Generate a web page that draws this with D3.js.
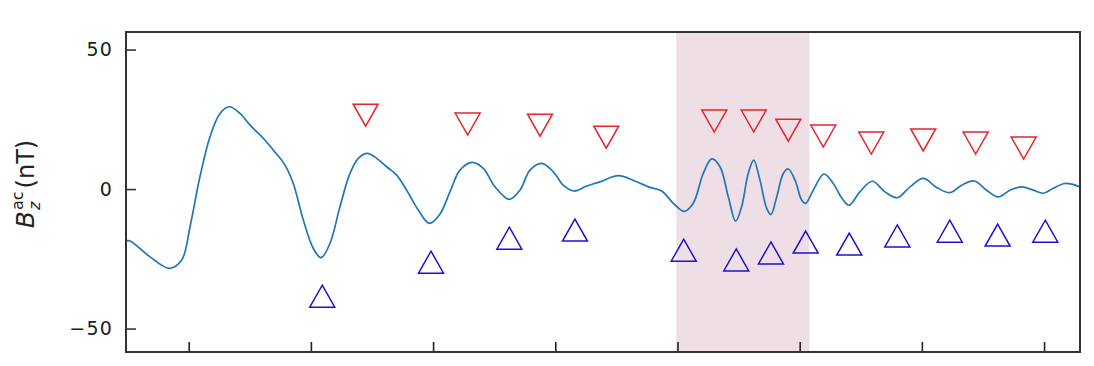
<!DOCTYPE html>
<html>
<head>
<meta charset="utf-8">
<script src="https://cdn.jsdelivr.net/npm/d3@7"></script>
<style>
  html, body { margin: 0; padding: 0; background: #fff; }
  svg { display: block; }
</style>
</head>
<body>
<svg id="chart" width="1094" height="366"></svg>
<script>
// ---- data ----
const lineT = [-0.513,-0.480,-0.316,-0.159,-0.057,0.011,0.092,0.174,0.256,0.332,0.420,0.502,0.610,0.692,0.788,0.856,0.938,1.020,1.083,1.156,1.238,1.320,1.388,1.462,1.538,1.620,1.702,1.784,1.879,1.969,2.056,2.138,2.220,2.321,2.411,2.507,2.624,2.711,2.793,2.889,2.984,3.065,3.155,3.257,3.366,3.516,3.666,3.775,3.871,3.966,4.056,4.129,4.211,4.280,4.348,4.416,4.476,4.525,4.579,4.624,4.675,4.730,4.765,4.812,4.866,4.907,4.962,5.016,5.049,5.111,5.199,5.275,5.344,5.403,5.493,5.594,5.698,5.799,5.903,6.012,6.121,6.230,6.326,6.429,6.530,6.625,6.721,6.817,6.912,6.993,7.075,7.171,7.294];
const lineB = [-18.6,-18.6,-24.3,-28.4,-25.4,-13.5,4.4,18.7,27.1,29.5,27.1,22.9,18.2,14.0,8.6,2.0,-11.1,-21.3,-24.6,-19.5,-6.3,5.6,11.0,12.8,11.0,8.0,5.0,-0.4,-7.5,-12.3,-9.0,-1.0,6.8,9.6,7.4,0.8,-3.7,-0.4,6.8,9.2,6.2,1.4,-0.7,1.1,2.6,4.8,2.6,0.6,-0.7,-5.1,-8.0,-5.1,5.6,10.8,8.0,-2.8,-11.5,-6.3,5.6,10.4,3.2,-6.9,-9.1,-2.8,5.6,7.2,3.2,-3.9,-5.1,-0.4,5.4,2.0,-3.2,-5.8,-1.0,2.8,-1.0,-3.1,0.8,3.8,0.6,-1.3,1.4,2.9,-0.4,-2.8,-0.4,0.8,-0.4,-1.5,0.3,2.0,0.8];

const maxT = [1.448,2.283,2.875,3.417,4.301,4.624,4.907,5.193,5.586,6.011,6.440,6.833];
const maxB = [26.5,23.3,22.9,18.6,24.4,24.4,21.1,19.0,16.5,17.6,16.5,14.7];

const minT = [1.093,1.983,2.624,3.161,4.051,4.481,4.765,5.049,5.406,5.799,6.228,6.620,7.010];
const minB = [-38.4,-26.2,-17.6,-14.7,-21.9,-25.4,-22.9,-19.0,-19.7,-16.8,-15.1,-16.5,-15.1];

const shadeRange = [3.99, 5.08];
const xTicks = [0,1,2,3,4,5,6,7];
const yTicks = [-50, 0, 50];
const yTickLabels = ["\u221250", "0", "50"];

// ---- layout ----
const L = 126, R = 1080, T = 32, B = 352;
const svg = d3.select("#chart");
const x = d3.scaleLinear().domain([-0.513, 7.294]).range([L, R]);
const y = d3.scaleLinear().domain([-58.4, 56.3]).range([B, T]);

const FONT = "DejaVu Sans, sans-serif";
const axisColor = "#333";

// shaded band
svg.append("rect")
  .attr("x", x(shadeRange[0])).attr("y", T)
  .attr("width", x(shadeRange[1]) - x(shadeRange[0]))
  .attr("height", B - T)
  .attr("fill", "#eedfe6");

// clip
svg.append("clipPath").attr("id", "clip")
  .append("rect").attr("x", L).attr("y", T).attr("width", R - L).attr("height", B - T);

// line
const pts = lineT.map((t, i) => [t, lineB[i]]);
svg.append("path")
  .attr("clip-path", "url(#clip)")
  .attr("d", d3.line().x(d => x(d[0])).y(d => y(d[1])).curve(d3.curveCatmullRom.alpha(0.5))(pts))
  .attr("fill", "none")
  .attr("stroke", "#1f77b4")
  .attr("stroke-width", 1.7);

// markers
const hw = 12.5, hh = 11;
svg.append("g").selectAll("path")
  .data(maxT.map((t, i) => [t, maxB[i]]))
  .join("path")
  .attr("transform", d => `translate(${x(d[0])},${y(d[1])})`)
  .attr("d", `M${-hw},${-hh}L${hw},${-hh}L0,${hh}Z`)
  .attr("fill", "none").attr("stroke", "#e8222a").attr("stroke-width", 1.5);

svg.append("g").selectAll("path")
  .data(minT.map((t, i) => [t, minB[i]]))
  .join("path")
  .attr("transform", d => `translate(${x(d[0])},${y(d[1])})`)
  .attr("d", `M0,${-hh}L${hw},${hh}L${-hw},${hh}Z`)
  .attr("fill", "none").attr("stroke", "#1e10d4").attr("stroke-width", 1.5);

// axes
const yAxis = d3.axisLeft(y).tickValues(yTicks)
  .tickFormat((d, i) => yTickLabels[i])
  .tickSizeInner(-10).tickSizeOuter(0).tickPadding(13);
const gy = svg.append("g").attr("transform", `translate(${L},0)`).call(yAxis);
gy.select(".domain").remove();
gy.selectAll("line").attr("stroke", axisColor).attr("stroke-width", 1.6);
gy.selectAll("text").attr("font-family", FONT).attr("font-size", 19)
  .attr("letter-spacing", 1.2).attr("fill", "#222");

const xAxis = d3.axisBottom(x).tickValues(xTicks).tickFormat("")
  .tickSizeInner(-10).tickSizeOuter(0);
const gx = svg.append("g").attr("transform", `translate(0,${B})`).call(xAxis);
gx.select(".domain").remove();
gx.selectAll("line").attr("stroke", "#222").attr("stroke-width", 1.6);

// frame
svg.append("rect")
  .attr("x", L).attr("y", T).attr("width", R - L).attr("height", B - T)
  .attr("fill", "none").attr("stroke", axisColor).attr("stroke-width", 2);

// y label
const lab = svg.append("g");
const tB = lab.append("text").text("B").attr("font-family", FONT)
  .attr("font-size", 25).attr("font-style", "italic").attr("fill", "#222");
const wB = tB.node().getComputedTextLength();
const tac = lab.append("text").text("ac").attr("x", wB + 1).attr("y", -11)
  .attr("font-family", FONT).attr("font-size", 16).attr("fill", "#222");
const tz = lab.append("text").text("z").attr("x", wB + 1).attr("y", 6)
  .attr("font-family", FONT).attr("font-size", 16).attr("font-style", "italic").attr("fill", "#222");
const wS = Math.max(tac.node().getComputedTextLength(), tz.node().getComputedTextLength());
const tU = lab.append("text").text("(nT)").attr("x", wB + wS + 4)
  .attr("font-family", FONT).attr("font-size", 24).attr("fill", "#222");
const W = wB + wS + 4 + tU.node().getComputedTextLength();
lab.attr("transform", `translate(34,${184 + W / 2}) rotate(-90)`);
</script>
</body>
</html>
